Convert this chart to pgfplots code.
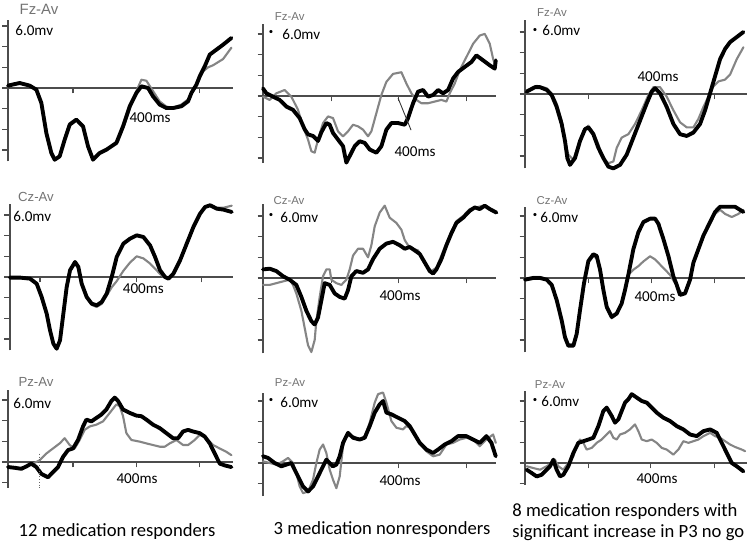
\documentclass[border=0pt]{standalone}
\usepackage{pgfplots}
\pgfplotsset{compat=1.18}
\usepackage{fontspec}
\setmainfont{Carlito}
\newfontfamily\labfont{Liberation Sans}

\pgfplotsset{
  erp/.style={
    anchor=origin, x=0.0667mm, y=2.067mm,
    axis x line=middle, axis y line=left,
    axis line style={-, line width=0.6pt, black!70},
    enlargelimits=false, xmin=0,
    xticklabels={}, yticklabels={},
    tick style={black!70, line width=0.6pt},
    major tick length=1.1mm, tick align=outside,
    ytick={-6,-4,...,6},
    clip=false,
    every axis plot/.append style={line join=round, line cap=round},
  },
}
\tikzset{
  av/.style={line width=2.2pt, black},
  gr/.style={line width=1.2pt, black!48},
  lab/.style={font=\labfont\fontsize{6.5}{7}\selectfont, text=black!55},
  mv/.style={font=\fontsize{8.6}{10}\selectfont, anchor=west, inner sep=0pt},
  ms/.style={font=\fontsize{8.6}{10}\selectfont, inner sep=0pt},
}

\begin{document}
\begin{tikzpicture}
\useasboundingbox (0,0) rectangle (15,10.86);

% ---------------- row 1: Fz ----------------
\begin{axis}[erp, at={(0.16cm,9.10cm)}, xmax=675, ymin=-7.1, ymax=6.6, xtick={195,385,575}]
\addplot[gr] coordinates {(0,0.3) (35,0.55) (65,0.25) (85,-0.2) (100,-1.6) (115,-4.5) (130,-6.5) (140,-7.0) (155,-6.5) (170,-4.8) (185,-3.4) (205,-3.0) (225,-3.6) (240,-5.5) (255,-6.9) (275,-6.3) (300,-5.9) (330,-5.2) (350,-3.5) (370,-1.6) (385,-0.3) (400,0.8) (415,0.7) (435,-0.3) (455,-1.3) (475,-1.8) (495,-1.9) (520,-1.6) (540,-1.1) (555,-0.3) (570,0.6) (585,1.6) (600,2.0) (615,2.2) (645,2.8) (670,3.9)};
\addplot[av] coordinates {(0,0.23) (35,0.48) (65,0.23) (85,-0.16) (100,-1.45) (115,-4.35) (130,-6.29) (140,-6.94) (155,-6.61) (170,-5.0) (185,-3.55) (205,-3.06) (225,-3.71) (240,-5.65) (255,-6.94) (275,-6.29) (295,-5.97) (325,-5.32) (345,-3.71) (365,-1.77) (385,-0.48) (400,0.16) (420,0) (435,-0.81) (455,-1.61) (475,-1.94) (495,-1.94) (520,-1.77) (540,-1.29) (550,-0.48) (565,0.32) (575,1.13) (590,2.10) (605,3.23) (625,3.71) (645,4.19) (670,4.84)};
\node[lab, font=\labfont\fontsize{8.5}{9}\selectfont] at (axis cs:93,7.65) {Fz-Av};
\node[mv] at (axis cs:21,5.6) {6.0mv};
\node[ms] at (axis cs:426,-2.9) {400ms};
\end{axis}

\begin{axis}[erp, at={(5.26cm,8.94cm)}, xmax=700, ymin=-6.5, ymax=7.0, xtick={205,405,610}]
\addplot[gr] coordinates {(0,-0.06) (20,-0.38) (40,0.26) (65,0.58) (85,-0.06) (105,-1.34) (120,-2.94) (135,-4.22) (145,-5.34) (155,-5.49) (165,-4.22) (180,-2.62) (195,-1.98) (210,-2.14) (225,-3.42) (240,-3.90) (255,-3.42) (270,-2.78) (285,-2.94) (300,-3.26) (315,-3.90) (325,-3.42) (340,-1.66) (355,0.10) (370,1.37) (390,2.14) (415,2.30) (430,1.21) (445,0.26) (460,-0.38) (475,-0.70) (495,-0.70) (515,-0.54) (535,-0.38) (550,-0.54) (560,0.26) (575,1.21) (590,2.49) (610,3.77) (630,5.05) (650,5.85) (665,6.01) (680,5.05) (690,3.61) (698,2.81)};
\addplot[av] coordinates {(0,0.73) (10,0.26) (30,-0.06) (50,-0.38) (70,-1.02) (90,-1.34) (110,-2.14) (125,-3.23) (135,-3.71) (150,-3.87) (165,-4.35) (175,-3.51) (190,-2.62) (200,-2.78) (210,-3.58) (225,-4.22) (240,-4.86) (250,-6.45) (260,-5.81) (275,-4.86) (290,-4.38) (305,-4.54) (320,-5.18) (340,-5.49) (355,-4.86) (370,-3.26) (385,-2.62) (405,-2.62) (425,-2.78) (435,-2.14) (450,-0.70) (465,0.42) (480,0.58) (495,-0.06) (510,0.10) (525,0.58) (540,0.26) (555,0.58) (570,1.69) (585,2.33) (605,2.81) (625,3.29) (640,3.93) (660,3.45) (680,2.97) (695,2.65) (698,3.45)};
\draw[black!80, line width=0.5pt] (axis cs:405,-0.2) -- (axis cs:444,-3.3);
\node[lab] at (axis cs:80,7.65) {Fz-Av};
\node[font=\tiny, inner sep=0pt] at (axis cs:24,6.15) {\textbullet};
\node[mv] at (axis cs:57,6.0) {6.0mv};
\node[ms] at (axis cs:456,-5.4) {400ms};
\end{axis}

\begin{axis}[erp, at={(10.50cm,8.98cm)}, xmax=665, ymin=-7.2, ymax=7.2, xtick={190,375,567}]
\addplot[gr] coordinates {(5,0.33) (35,0.79) (65,0.56) (80,0.07) (95,-0.92) (110,-2.57) (120,-4.55) (130,-5.87) (145,-6.37) (160,-4.88) (175,-3.56) (190,-3.07) (205,-3.73) (220,-4.88) (235,-6.2) (250,-6.7) (265,-6.53) (275,-5.21) (290,-4.22) (310,-3.89) (330,-2.90) (350,-1.58) (370,-0.10) (385,0.66) (405,0.66) (425,-0.26) (445,-1.58) (465,-2.74) (485,-3.23) (505,-3.23) (520,-2.41) (535,-1.25) (550,-0.26) (565,0.73) (580,1.22) (600,1.39) (615,1.88) (635,3.37) (655,4.52)};
\addplot[av] coordinates {(5,0.23) (30,0.66) (45,0.66) (65,0.40) (80,-0.10) (95,-1.25) (110,-2.90) (120,-4.55) (127,-6.2) (135,-6.86) (150,-6.2) (165,-4.55) (180,-3.40) (190,-3.23) (205,-3.89) (220,-5.21) (235,-6.2) (250,-7.03) (265,-7.2) (285,-6.86) (305,-5.87) (325,-4.22) (345,-2.57) (365,-0.92) (380,0.23) (390,0.56) (405,0.07) (425,-1.25) (445,-2.90) (465,-3.89) (485,-4.06) (505,-3.73) (525,-2.90) (540,-1.58) (555,0.07) (570,1.72) (585,3.37) (600,4.36) (615,5.02) (635,5.51) (655,6.0)};
\node[lab] at (axis cs:81,7.84) {Fz-Av};
\node[font=\tiny, inner sep=0pt] at (axis cs:30,6.1) {\textbullet};
\node[mv] at (axis cs:51,6.1) {6.0mv};
\node[ms] at (axis cs:399,1.65) {400ms};
\end{axis}

% ---------------- row 2: Cz ----------------
\begin{axis}[erp, at={(0.20cm,5.32cm)}, xmax=670, ymin=-7.1, ymax=7.1, xtick={90,380,575}]
\addplot[gr] coordinates {(0,-0.1) (30,-0.1) (60,-0.2) (80,-0.7) (95,-2.0) (110,-3.6) (120,-5.2) (130,-6.5) (140,-7.0) (150,-6.2) (160,-3.6) (170,-1.0) (180,0.6) (195,1.3) (205,0.9) (215,-0.7) (230,-2.0) (245,-2.7) (260,-2.9) (275,-2.6) (290,-1.8) (305,-1.0) (320,-0.4) (340,0.6) (360,1.4) (380,2.0) (400,1.8) (420,1.3) (435,0.8) (450,0.3) (465,-0.1) (475,-0.2) (490,0.3) (510,1.6) (530,3.2) (550,4.8) (570,6.1) (585,6.8) (600,7.0) (620,6.7) (640,6.7) (665,6.9)};
\addplot[av] coordinates {(0,-0.06) (30,-0.06) (60,-0.16) (80,-0.65) (95,-1.94) (110,-3.55) (120,-5.16) (130,-6.45) (140,-6.94) (150,-6.13) (160,-3.55) (170,-0.97) (180,0.65) (195,1.45) (205,0.97) (215,-0.65) (230,-1.94) (245,-2.58) (260,-2.74) (275,-2.42) (290,-1.61) (305,0) (320,1.94) (340,3.23) (360,3.71) (380,4.03) (400,3.87) (420,3.06) (435,1.94) (450,0.65) (465,0) (475,-0.16) (490,0.32) (510,1.61) (530,3.23) (550,4.84) (570,6.13) (585,6.77) (600,6.94) (620,6.61) (640,6.52) (665,6.29)};
\node[lab, font=\labfont\fontsize{7.5}{8}\selectfont] at (axis cs:78,7.74) {Cz-Av};
\node[mv] at (axis cs:9,5.9) {6.0mv};
\node[ms] at (axis cs:400,-1.16) {400ms};
\end{axis}

\begin{axis}[erp, at={(5.26cm,5.30cm)}, xmax=700, ymin=-7.3, ymax=7.2, xtick={205,405,610}]
\addplot[gr] coordinates {(0,-0.67) (20,-0.67) (40,-0.5) (60,-0.33) (80,-0.17) (90,-0.67) (100,-1.5) (115,-3.17) (125,-4.83) (135,-6.5) (145,-7.17) (155,-6.0) (160,-4.17) (170,-1.83) (180,0.17) (190,0.83) (200,0.83) (205,-0.17) (220,-0.5) (235,-0.67) (250,-0.17) (260,0.83) (270,2.17) (285,2.83) (300,2.83) (315,2.0) (325,3.17) (335,5.0) (350,6.33) (365,7.0) (380,5.83) (400,5.33) (415,4.67) (425,3.67) (435,3.17) (450,2.83) (465,2.67) (480,1.83) (495,1.0) (505,0.67) (520,1.0) (535,2.17) (550,3.33) (565,4.5) (580,5.5) (600,6.0) (620,6.67) (640,6.83) (660,7.0) (680,6.67) (695,6.33)};
\addplot[av] coordinates {(0,0.83) (20,0.90) (40,0.67) (60,0.17) (80,-0.17) (100,-0.67) (115,-1.83) (130,-3.17) (145,-4.17) (155,-4.5) (165,-3.83) (175,-2.17) (185,-0.5) (200,-0.67) (215,-1.5) (230,-1.83) (245,-2.0) (255,-1.17) (265,0.17) (280,0.67) (300,0.5) (315,0.83) (330,1.83) (350,2.83) (370,3.33) (390,3.5) (410,3.17) (425,2.83) (440,3.0) (455,2.67) (470,2.33) (485,1.5) (500,0.67) (510,0.43) (520,0.83) (535,1.83) (550,3.17) (565,4.33) (580,5.33) (600,5.83) (620,6.5) (635,6.83) (650,6.67) (665,7.0) (680,6.67) (700,6.33)};
\node[lab] at (axis cs:78,7.45) {Cz-Av};
\node[font=\tiny, inner sep=0pt] at (axis cs:24,6.0) {\textbullet};
\node[mv] at (axis cs:51,5.9) {6.0mv};
\node[ms] at (axis cs:411,-1.74) {400ms};
\end{axis}

\begin{axis}[erp, at={(10.50cm,5.30cm)}, xmax=660, ymin=-7.2, ymax=6.9, xtick={190,380,567}]
\addplot[gr] coordinates {(0,-0.1) (25,0.1) (45,0.1) (65,-0.1) (80,-0.6) (95,-2.1) (110,-4.0) (120,-5.6) (130,-6.4) (145,-6.4) (155,-5.3) (165,-3.0) (177,-0.4) (190,1.5) (205,2.1) (215,1.9) (225,0.6) (235,-1.3) (245,-2.9) (260,-3.9) (275,-3.5) (290,-2.4) (300,-1.1) (310,0.3) (325,0.8) (340,1.15) (355,1.6) (375,2.1) (390,1.8) (405,1.3) (420,0.8) (435,0.3) (450,-0.5) (460,-1.0) (470,-1.5) (480,-1.5) (495,-0.2) (505,1.4) (520,2.7) (535,4.0) (555,5.3) (570,6.2) (585,6.6) (600,6.2) (620,5.9) (640,6.2) (655,6.6)};
\addplot[av] coordinates {(0,-0.16) (25,0) (45,0) (65,-0.16) (80,-0.66) (95,-2.13) (110,-4.1) (120,-5.74) (130,-6.56) (145,-6.56) (155,-5.41) (165,-3.11) (177,-0.49) (190,1.64) (205,2.30) (215,2.13) (225,0.82) (235,-1.15) (245,-2.79) (260,-3.77) (275,-3.44) (290,-2.46) (300,-1.15) (310,0.33) (325,2.79) (340,4.43) (355,5.41) (375,5.74) (390,5.74) (400,5.25) (415,3.77) (430,2.13) (445,0.16) (455,-0.66) (465,-1.64) (480,-1.48) (495,-0.16) (505,1.48) (520,2.79) (535,4.1) (555,5.41) (570,6.39) (585,6.89) (605,6.89) (630,6.89) (655,6.39)};
\node[lab] at (axis cs:81,7.45) {Cz-Av};
\node[font=\tiny, inner sep=0pt] at (axis cs:30,6.0) {\textbullet};
\node[mv] at (axis cs:45,5.9) {6.0mv};
\node[ms] at (axis cs:390,-1.84) {400ms};
\end{axis}

% ---------------- row 3: Pz ----------------
\begin{axis}[erp, at={(0.16cm,1.62cm)}, xmax=675, ymin=-2.5, ymax=7.0, xtick={195,385,575}]
\addplot[gr] coordinates {(0,-0.43) (25,-0.66) (50,-0.49) (75,-0.16) (95,0.16) (115,0.82) (135,1.31) (155,1.80) (170,2.30) (185,1.64) (200,1.31) (215,2.13) (230,3.11) (245,3.44) (265,3.61) (285,3.93) (305,4.75) (325,5.57) (335,5.41) (345,4.43) (355,2.79) (370,2.13) (395,1.97) (415,1.80) (435,1.64) (455,1.48) (470,1.48) (485,1.80) (505,2.13) (525,1.64) (540,1.64) (560,2.13) (575,2.62) (595,2.30) (615,1.64) (635,1.31) (655,0.98) (670,0.66)};
\addplot[av] coordinates {(0,-0.49) (20,-0.56) (40,-0.66) (55,-0.43) (70,-0.16) (85,-0.49) (100,-1.15) (120,-1.48) (135,-0.98) (150,-0.49) (165,0.49) (180,1.15) (195,1.31) (210,2.13) (225,3.44) (235,4.1) (250,3.93) (265,4.26) (280,4.59) (295,5.08) (310,5.90) (320,6.23) (330,5.90) (345,5.08) (365,4.75) (385,4.49) (400,4.43) (415,4.1) (435,3.61) (455,3.28) (475,2.79) (495,2.30) (510,2.30) (525,2.95) (540,3.11) (555,2.95) (575,2.79) (590,2.46) (605,1.80) (620,0.82) (635,-0.16) (650,-0.33) (670,-0.49)};
\draw[black!60, densely dotted, line width=0.6pt] (axis cs:95,0.8) -- (axis cs:95,-2.5);
\node[lab, font=\labfont\fontsize{7.5}{8}\selectfont] at (axis cs:84,7.74) {Pz-Av};
\node[mv] at (axis cs:15,5.7) {6.0mv};
\node[ms] at (axis cs:387,-1.65) {400ms};
\end{axis}

\begin{axis}[erp, at={(5.26cm,1.60cm)}, xmax=700, ymin=-3.2, ymax=6.8, xtick={205,405,610}]
\addplot[gr] coordinates {(0,0.16) (20,0) (40,-0.16) (60,0.16) (75,0.49) (90,0) (100,-0.97) (110,-2.27) (120,-2.92) (135,-2.76) (150,-1.62) (160,0) (170,1.30) (180,1.79) (190,0.97) (200,-0.65) (210,-1.62) (220,-2.44) (230,-1.30) (240,1.62) (250,2.60) (270,2.60) (290,2.27) (305,2.60) (320,3.90) (335,5.84) (345,6.66) (360,6.82) (370,5.84) (385,4.06) (400,3.41) (420,3.25) (430,3.57) (440,3.41) (455,2.76) (470,1.95) (490,1.14) (510,0.65) (530,0.81) (550,1.79) (570,1.95) (590,2.27) (610,2.44) (630,2.27) (650,1.62) (670,2.27) (690,2.76) (698,1.95)};
\addplot[av] coordinates {(0,0.65) (15,0.49) (35,0) (55,-0.32) (70,-0.16) (85,0) (95,-0.65) (105,-1.30) (120,-2.27) (135,-2.76) (150,-2.27) (165,-1.30) (180,-0.32) (190,0.32) (200,0) (210,-0.32) (220,-0.16) (230,0.65) (240,1.95) (255,2.92) (270,2.44) (290,2.27) (305,2.44) (320,3.57) (335,4.87) (350,5.68) (360,6.0) (370,4.87) (385,4.71) (405,4.38) (425,4.06) (440,3.57) (455,2.76) (470,1.95) (490,1.30) (510,0.97) (525,1.30) (545,1.79) (565,2.11) (585,2.60) (610,2.60) (630,2.27) (650,1.95) (670,2.60) (685,1.95) (698,0.65)};
\node[lab] at (axis cs:81,7.74) {Pz-Av};
\node[font=\tiny, inner sep=0pt] at (axis cs:24,6.0) {\textbullet};
\node[mv] at (axis cs:51,5.9) {6.0mv};
\node[ms] at (axis cs:411,-1.74) {400ms};
\end{axis}

\begin{axis}[erp, at={(10.50cm,1.60cm)}, xmax=665, ymin=-2.1, ymax=7.0, xtick={190,375,567}]
\addplot[gr] coordinates {(5,-0.32) (25,-0.49) (45,-0.65) (65,-0.32) (80,0) (90,0.32) (100,-0.32) (115,-0.65) (130,0) (145,0.65) (155,1.62) (165,2.27) (175,1.95) (185,1.30) (200,1.46) (215,1.95) (230,2.27) (245,2.76) (255,3.08) (265,2.44) (275,2.27) (285,2.76) (300,2.92) (315,3.25) (330,3.73) (340,3.08) (350,2.27) (365,2.11) (380,2.27) (395,1.95) (410,1.46) (425,1.30) (445,0.81) (460,1.30) (475,2.11) (490,1.95) (505,2.11) (520,2.27) (535,2.60) (555,2.92) (570,2.60) (585,2.44) (600,2.11) (615,1.79) (630,1.55) (650,1.30) (660,1.14)};
\addplot[av] coordinates {(5,-0.65) (20,-0.97) (35,-1.30) (50,-1.14) (60,-0.81) (75,-0.32) (85,0.32) (95,-0.65) (105,-1.30) (115,-1.14) (130,-0.32) (145,0.97) (160,1.95) (175,2.11) (190,2.27) (205,2.44) (220,3.57) (235,5.03) (245,5.36) (260,4.55) (270,3.90) (280,4.22) (290,5.03) (300,5.84) (310,6.17) (320,6.66) (335,6.33) (350,6.0) (365,5.84) (380,5.36) (395,4.87) (415,4.38) (435,4.06) (455,3.57) (475,3.25) (495,2.76) (515,2.60) (535,3.08) (555,3.25) (575,2.92) (590,1.95) (605,0.97) (620,0) (635,-0.32) (655,-0.81)};
\node[lab] at (axis cs:75,7.55) {Pz-Av};
\node[font=\tiny, inner sep=0pt] at (axis cs:30,6.0) {\textbullet};
\node[mv] at (axis cs:48,6.0) {6.0mv};
\node[ms] at (axis cs:396,-1.55) {400ms};
\end{axis}

% captions
\node[font=\fontsize{10.6}{12}\selectfont] at (2.34,0.22) {12 medication responders};
\node[font=\fontsize{10.6}{12}\selectfont] at (7.64,0.26) {3 medication nonresponders};
\node[font=\fontsize{10.6}{11.9}\selectfont, align=left, anchor=west, inner sep=0pt] at (10.24,0.41) {8 medication responders with\\significant increase in P3 no go};
\end{tikzpicture}
\end{document}
